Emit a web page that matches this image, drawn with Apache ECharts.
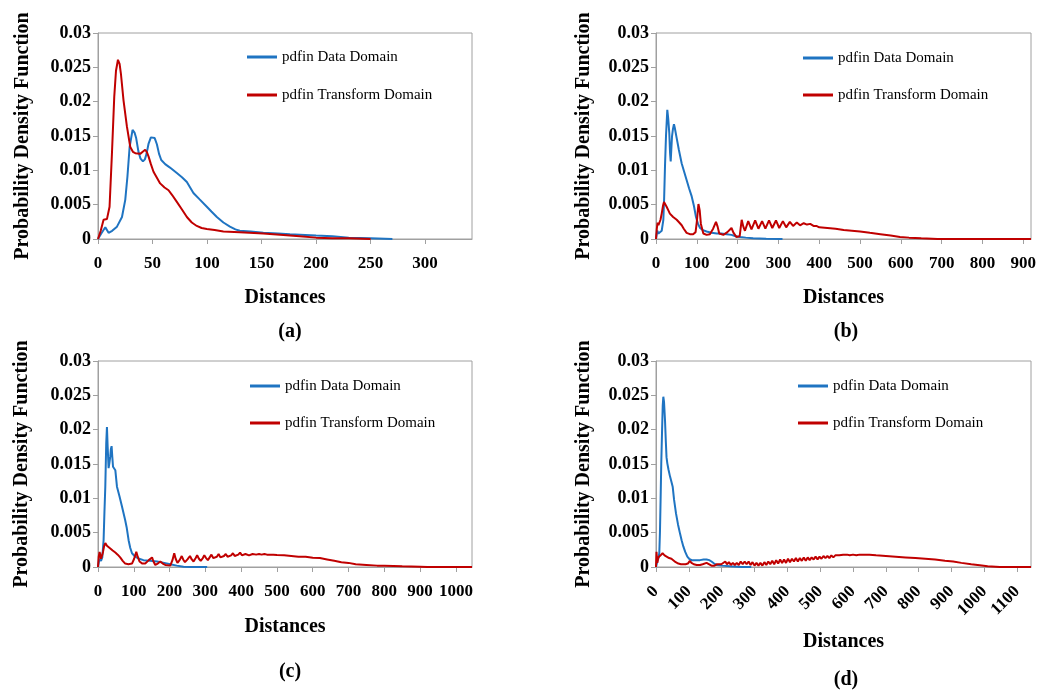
<!DOCTYPE html>
<html>
<head>
<meta charset="utf-8">
<script src="https://cdn.jsdelivr.net/npm/echarts@6/dist/echarts.min.js"></script>
<style>html,body{margin:0;padding:0;background:#fff}#c{width:1041px;height:691px}</style>
</head>
<body>
<div id="c"></div>
<script>
// ---- data ----
const seriesNames = ['pdfin Data Domain', 'pdfin Transform Domain'];
const captions = ['(a)', '(b)', '(c)', '(d)'];
const yTicks = [0, 0.005, 0.01, 0.015, 0.02, 0.025, 0.03];
const xTicksA = [0, 50, 100, 150, 200, 250, 300];
const xTicksB = [0, 100, 200, 300, 400, 500, 600, 700, 800, 900];
const xTicksC = [0, 100, 200, 300, 400, 500, 600, 700, 800, 900, 1000];
const xTicksD = [0, 100, 200, 300, 400, 500, 600, 700, 800, 900, 1000, 1100];
const xMax = [343, 919, 1045, 1142];

const aData = [[0,0],[3,0.0008],[6.7,0.0017],[9.7,0.0009],[13,0.0012],[17.4,0.0018],[22,0.0032],[25,0.0057],[27,0.0091],[29,0.0134],[31.7,0.0159],[33.5,0.0155],[35,0.0147],[37,0.0128],[39,0.0117],[41.2,0.0113],[43,0.0116],[44.5,0.0124],[46.4,0.0139],[48.5,0.0148],[50.3,0.015],[52,0.0147],[54,0.0138],[56,0.0124],[58,0.0115],[61.6,0.0109],[66,0.0104],[72.3,0.0096],[77,0.009],[81.5,0.0083],[84.5,0.0075],[87.5,0.0067],[93,0.0058],[99.8,0.0047],[104,0.004],[109,0.0032],[115,0.0024],[121,0.0018],[126,0.0014],[130,0.0012],[140,0.0011],[151.6,0.0009],[165,0.0008],[176,0.0007],[190,0.0006],[200,0.0005],[215,0.0004],[230,0.0002],[250,0.0001],[270,0]];
const aTrans = [[0,0],[2.5,0.0012],[5.1,0.0028],[8.2,0.0029],[10.6,0.0047],[12.8,0.0125],[14.9,0.0207],[16.5,0.0245],[18.3,0.0261],[19.8,0.0255],[21,0.0241],[23.4,0.0202],[26.5,0.0164],[29.6,0.0134],[32,0.0127],[34.2,0.0125],[38.7,0.0124],[41,0.0127],[43.3,0.013],[45,0.0126],[46.4,0.012],[48.5,0.0109],[50.9,0.0098],[57,0.0081],[61,0.0075],[64.7,0.0071],[68,0.0064],[72.3,0.0054],[77,0.0043],[81.5,0.0032],[86,0.0024],[90.6,0.0019],[95,0.0016],[99.8,0.00146],[107,0.0013],[115,0.0011],[130,0.001],[151.6,0.0008],[170,0.0006],[185,0.0004],[200,0.0002],[215,0.0001],[230,0.0001],[250,0]];

const bData = [[0,0],[3,0.0012],[6,0.0008],[10,0.001],[14,0.0012],[18,0.0028],[20,0.006],[22,0.0105],[24.5,0.015],[27.7,0.0188],[30,0.0175],[32.6,0.0154],[34.5,0.0125],[36,0.0113],[37.5,0.013],[39.2,0.0149],[41.5,0.016],[44,0.0167],[46,0.0162],[50.7,0.0147],[56,0.013],[63,0.011],[69,0.0098],[75,0.0086],[81,0.0074],[87.5,0.0062],[93,0.0048],[98,0.0032],[103,0.0022],[108,0.0016],[115,0.0013],[124,0.0011],[136,0.0009],[149,0.0008],[160,0.0008],[173,0.0007],[185,0.0006],[195,0.0004],[206,0.0003],[220,0.0002],[238,0.0001],[270,0.00005],[310,0]];
const bTrans = [[0,0],[2,0.0015],[4,0.0024],[6,0.002],[8,0.0018],[11,0.0028],[14,0.0037],[17,0.0048],[19.6,0.0054],[22,0.0052],[26,0.0047],[30,0.0042],[34,0.0037],[42,0.0032],[50.7,0.0028],[57,0.0024],[63,0.002],[68,0.0015],[75,0.0009],[83,0.0007],[91,0.0007],[97,0.001],[100,0.0025],[104,0.0051],[107,0.0042],[110,0.0022],[116,0.0008],[124,0.0006],[132,0.0007],[140,0.0015],[147,0.0025],[151,0.0018],[155,0.0008],[165,0.0006],[175,0.001],[185,0.0016],[190,0.0009],[197,0.0003],[205,0.0004],[210,0.0028],[214,0.0018],[218,0.0012],[226,0.0026],[234,0.0014],[243,0.0027],[251,0.0015],[260,0.0026],[268,0.0015],[277,0.0027],[285,0.0016],[294,0.0027],[302,0.0016],[311,0.0026],[319,0.0017],[328,0.0025],[336,0.0019],[345,0.0024],[353,0.002],[362,0.0023],[370,0.0021],[378,0.0022],[386,0.0019],[393,0.0019],[400,0.0017],[420,0.0016],[440,0.0015],[460,0.0013],[480,0.0012],[500,0.0011],[524,0.0009],[550,0.0007],[575,0.0005],[598,0.0003],[620,0.0002],[650,0.0001],[690,0],[919,0]];

const cData = [[0,0],[4,0.0012],[8.4,0.0009],[12,0.0014],[15.6,0.0039],[18,0.008],[20.4,0.0117],[23,0.018],[25,0.0204],[27,0.0175],[29.6,0.0144],[32,0.0152],[34.3,0.0161],[36,0.0172],[38,0.0176],[40,0.016],[42,0.0146],[45,0.0145],[48.4,0.0141],[53,0.0117],[60,0.0103],[67,0.0088],[76,0.0068],[80,0.0058],[85.5,0.0039],[90,0.0028],[95,0.002],[104,0.0015],[115,0.0012],[127,0.001],[145,0.0009],[165,0.0008],[185,0.0006],[202,0.0004],[220,0.0002],[239,0.00005],[260,0],[305,0]];
const cTrans = [[0,0],[2,0.0015],[4.5,0.0022],[8.4,0.0012],[11,0.0016],[14,0.0022],[17,0.003],[20.4,0.0035],[23,0.0034],[25,0.0031],[30,0.0029],[34.3,0.0027],[41,0.0024],[48.4,0.0021],[55,0.0018],[62,0.0014],[69,0.0009],[76,0.0005],[85,0.0004],[95,0.0005],[101,0.0012],[107,0.0022],[111,0.0015],[116,0.0008],[124,0.0005],[132,0.0005],[142,0.001],[151,0.0014],[155,0.0008],[160,0.0003],[167,0.0005],[174,0.0008],[181,0.0005],[188,0.0003],[202,0.0002],[208,0.001],[213,0.002],[217,0.0012],[222,0.0006],[228,0.001],[234,0.0016],[238,0.0011],[243,0.0007],[250,0.0011],[257,0.0016],[262,0.0011],[267,0.0008],[273,0.0013],[277,0.0017],[282,0.0012],[287,0.0009],[293,0.0013],[297,0.0017],[302,0.0013],[307,0.001],[312,0.0014],[317,0.0018],[322,0.0013],[327,0.0011],[332,0.0015],[337,0.0019],[342,0.0014],[347,0.0012],[352,0.0016],[357,0.0019],[362,0.0015],[367,0.0014],[372,0.0017],[377,0.002],[382,0.0016],[387,0.0015],[392,0.0018],[397,0.0021],[402,0.0017],[407,0.0016],[412,0.0019],[417,0.002],[422,0.0017],[427,0.0017],[432,0.0019],[437,0.002],[442,0.0018],[450,0.0019],[457,0.0018],[465,0.0019],[472,0.0018],[480,0.0018],[490,0.0018],[500,0.00175],[520,0.0017],[540,0.0016],[560,0.0015],[580,0.0015],[600,0.00135],[620,0.0013],[640,0.0011],[660,0.0009],[680,0.0007],[700,0.0006],[720,0.0004],[750,0.0003],[780,0.0002],[800,0.0002],[850,0.0001],[900,0.00005],[920,0],[1045,0]];

const dData = [[0,0],[4,0.0008],[7,0.0012],[10,0.002],[12,0.005],[14,0.0098],[16,0.015],[18.3,0.0195],[20.5,0.0235],[22.3,0.0248],[24.5,0.024],[27.4,0.0214],[30,0.0182],[32,0.016],[34.5,0.0151],[38,0.0142],[42.6,0.0132],[46,0.0126],[50.8,0.0117],[55,0.0098],[60.9,0.0078],[67,0.0062],[73,0.0049],[78,0.0039],[83.2,0.003],[89,0.0022],[95.4,0.0015],[101,0.0012],[108.7,0.001],[120,0.001],[134,0.001],[145,0.0011],[154,0.0011],[162,0.001],[169,0.0008],[177,0.0005],[185,0.0003],[200,0.0002],[225,0.0001],[260,0],[290,0]];
const dTrans = [[0,0],[1.5,0.0022],[4,0.0006],[7,0.0014],[10,0.0012],[14,0.0017],[20,0.002],[26,0.0017],[32,0.0015],[40,0.0013],[47,0.0012],[53,0.001],[60,0.0007],[68,0.0005],[76,0.0004],[83,0.0004],[90,0.0004],[97,0.0005],[103,0.0009],[108,0.0006],[115,0.0004],[124,0.0003],[134,0.0003],[142,0.0004],[148,0.0004],[154,0.0006],[160,0.0004],[169,0.0002],[178,0.0002],[186,0.0004],[192,0.0003],[199,0.0004],[205,0.0006],[211,0.0008],[216,0.0004],[222,0.0007],[228,0.0003],[234,0.0006],[240,0.0003],[246,0.0006],[252,0.0003],[258,0.0008],[264,0.0004],[270,0.0008],[276,0.0004],[282,0.0008],[288,0.0003],[294,0.0007],[300,0.0002],[306,0.0006],[312,0.0002],[318,0.0006],[324,0.0002],[330,0.0007],[336,0.0003],[342,0.0008],[348,0.0004],[354,0.0009],[360,0.0004],[366,0.001],[372,0.0005],[378,0.0011],[384,0.0006],[390,0.0011],[396,0.0006],[402,0.0012],[408,0.0007],[414,0.0012],[420,0.0008],[426,0.0013],[432,0.0008],[438,0.0013],[444,0.0009],[450,0.0014],[456,0.0009],[462,0.0014],[468,0.001],[474,0.0014],[480,0.0011],[486,0.0015],[492,0.0011],[498,0.0015],[504,0.0012],[510,0.0016],[516,0.0013],[522,0.0016],[528,0.0013],[534,0.0017],[540,0.0014],[546,0.0017],[552,0.0015],[558,0.0017],[564,0.0015],[570,0.0018],[576,0.0016],[582,0.0018],[590,0.0017],[600,0.0018],[610,0.0017],[620,0.0018],[635,0.0018],[650,0.0018],[670,0.0017],[700,0.0016],[730,0.0015],[760,0.0014],[790,0.0013],[820,0.0012],[850,0.0011],[880,0.0009],[905,0.0008],[930,0.0006],[960,0.0004],[986,0.00025],[1010,0.0001],[1047,0],[1080,0],[1142,0]];

// ---- layout ----
const FONT = "'Liberation Serif', 'Times New Roman', serif";
const BLUE = '#1f74c2', RED = '#c00000', GRAY = '#a0a0a0';
const panels = [
  { grid: {left: 98, top: 33, width: 374, height: 206}, ticks: xTicksA, max: xMax[0], data: aData, trans: aTrans, rotate: 0, lm: 16, gapX: 49, gapY: 65, leg: {left: 247, top: 49, gap: 22}, cap: [290, 332] },
  { grid: {left: 656, top: 33, width: 375, height: 206}, ticks: xTicksB, max: xMax[1], data: bData, trans: bTrans, rotate: 0, lm: 16, gapX: 49, gapY: 62, leg: {left: 803, top: 50, gap: 21}, cap: [846, 332] },
  { grid: {left: 98, top: 361, width: 374, height: 206}, ticks: xTicksC, max: xMax[2], data: cData, trans: cTrans, rotate: 0, lm: 16, gapX: 50, gapY: 66, leg: {left: 250, top: 378, gap: 21}, cap: [290, 672] },
  { grid: {left: 656, top: 361, width: 375, height: 206}, ticks: xTicksD, max: xMax[3], data: dData, trans: dTrans, rotate: 45, lm: 22, gapX: 65, gapY: 62, leg: {left: 798, top: 378, gap: 21}, cap: [846, 680] }
];

const option = {
  animation: false,
  backgroundColor: '#fff',
  grid: [], xAxis: [], yAxis: [], series: [], legend: [], graphic: []
};
const yFmt = v => String(+(+v).toFixed(3));
const xFmt = v => String(Math.round(v));
panels.forEach((p, i) => {
  option.grid.push(Object.assign({show: true, borderColor: GRAY, borderWidth: 1, backgroundColor: 'transparent'}, p.grid));
  option.xAxis.push({
    type: 'value', gridIndex: i, min: 0, max: p.max,
    name: 'Distances', nameLocation: 'middle', nameGap: p.gapX,
    nameTextStyle: {fontFamily: FONT, fontWeight: 'bold', fontSize: 20, color: '#000'},
    axisLine: {show: true, lineStyle: {color: GRAY, width: 1}},
    axisTick: {show: true, length: 5, lineStyle: {color: GRAY}, customValues: p.ticks},
    axisLabel: {fontFamily: FONT, fontWeight: 'bold', fontSize: 17, color: '#000', margin: p.lm, rotate: p.rotate, formatter: xFmt, customValues: p.ticks},
    splitLine: {show: false}
  });
  option.yAxis.push({
    type: 'value', gridIndex: i, min: 0, max: 0.03, interval: 0.005,
    name: 'Probability Density Function', nameLocation: 'middle', nameRotate: 90, nameGap: p.gapY,
    nameTextStyle: {fontFamily: FONT, fontWeight: 'bold', fontSize: 20, color: '#000'},
    axisLine: {show: true, lineStyle: {color: GRAY, width: 1}},
    axisTick: {show: true, length: 5, lineStyle: {color: GRAY}, customValues: yTicks},
    axisLabel: {fontFamily: FONT, fontWeight: 'bold', fontSize: 18, color: '#000', margin: 7, formatter: yFmt, customValues: yTicks},
    splitLine: {show: false}
  });
  option.series.push({
    name: seriesNames[0], type: 'line', xAxisIndex: i, yAxisIndex: i, data: p.data,
    showSymbol: false, symbol: 'none', color: BLUE, lineStyle: {color: BLUE, width: 2}, z: 2
  });
  option.series.push({
    name: seriesNames[1], type: 'line', xAxisIndex: i, yAxisIndex: i, data: p.trans,
    showSymbol: false, symbol: 'none', color: RED, lineStyle: {color: RED, width: 2}, z: 3
  });
  option.legend.push({
    data: seriesNames, orient: 'vertical', left: p.leg.left, top: p.leg.top, padding: 0,
    itemGap: p.leg.gap, itemWidth: 30, itemHeight: 3, icon: 'rect', selectedMode: false,
    textStyle: {fontFamily: FONT, fontSize: 15, color: '#000', lineHeight: 16}
  });
  option.graphic.push({
    type: 'text', x: p.cap[0], y: p.cap[1], silent: true,
    style: {text: captions[i], font: 'bold 20px ' + FONT, fill: '#000', align: 'center', verticalAlign: 'middle'}
  });
});

const chart = echarts.init(document.getElementById('c'), null, {renderer: 'canvas'});
chart.setOption(option);
</script>
</body>
</html>
